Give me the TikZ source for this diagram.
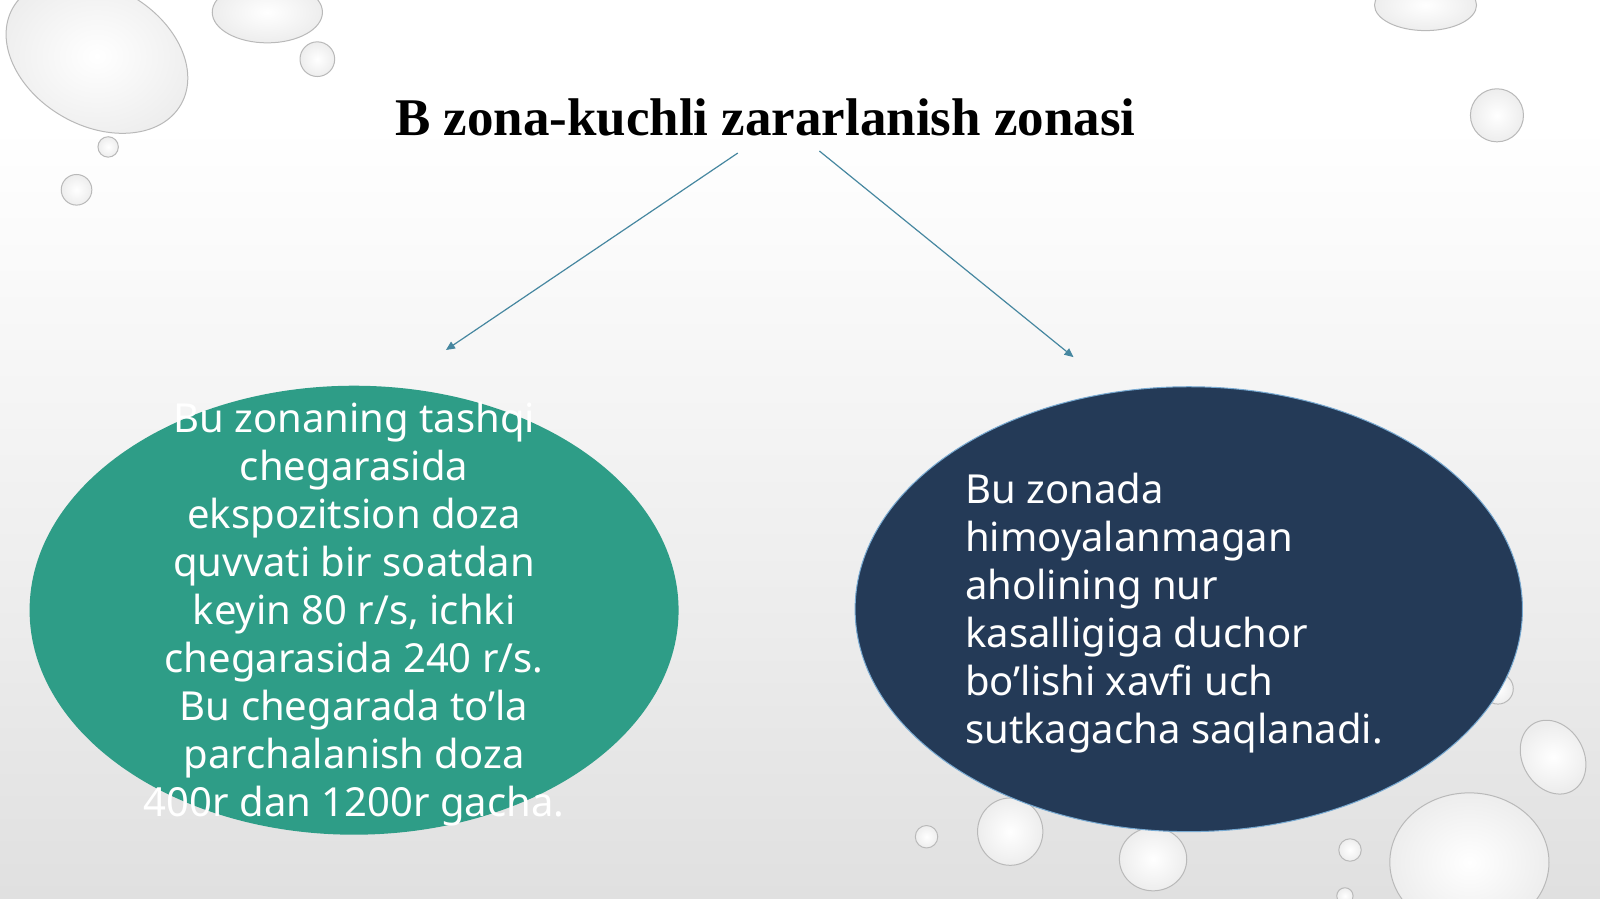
\documentclass[tikz,border=0pt]{standalone}
\usepackage{fontspec}
\setmainfont{Noto Sans}
\newfontfamily\titlefont{Liberation Serif}
\usetikzlibrary{shapes.geometric,arrows.meta}
\definecolor{tealC}{RGB}{46,157,135}
\definecolor{navyC}{RGB}{36,58,87}
\definecolor{arrowC}{RGB}{70,135,160}
\definecolor{rimC}{RGB}{120,170,210}
\pgfdeclareverticalshading{bgshade}{100bp}{color(0bp)=(gray!40); color(40bp)=(gray!15); color(68bp)=(white); color(100bp)=(white)}
\tikzset{
  drop/.style={inner color=white, outer color=gray!14, draw=gray!55, line width=0.5pt},
  zone/.style={ellipse, inner sep=0pt},
  bodytext/.style={text=white, font=\fontsize{20}{24}\selectfont},
  link/.style={draw=arrowC, line width=0.6pt, -{Triangle[length=4.5pt,width=4pt]}}
}
\begin{document}
\begin{tikzpicture}[x=0.5102pt,y=-0.5102pt]
\useasboundingbox (0,0) rectangle (1568,881);
\shade[shading=bgshade] (0,0) rectangle (1568,881);
% droplets
\begin{scope}
\clip (0,0) rectangle (1568,881);
\shadedraw[drop, rotate around={-30:(95,55)}] (95,55) ellipse [x radius=95, y radius=68];
\shadedraw[drop] (262,12) ellipse [x radius=54, y radius=30];
\shadedraw[drop] (311,58) circle [radius=17];
\shadedraw[drop] (106,144) circle [radius=10];
\shadedraw[drop] (75,186) circle [radius=15];
\shadedraw[drop] (1397,5) ellipse [x radius=50, y radius=25];
\shadedraw[drop] (1467,113) circle [radius=26];
\shadedraw[drop] (1468,675) circle [radius=15];
\shadedraw[drop, rotate around={30:(1522,742)}] (1522,742) ellipse [x radius=30, y radius=38];
\shadedraw[drop] (1440,845) ellipse [x radius=78, y radius=68];
\shadedraw[drop] (1323,833) circle [radius=11];
\shadedraw[drop] (990,815) ellipse [x radius=32, y radius=33];
\shadedraw[drop] (908,820) circle [radius=11];
\shadedraw[drop] (1130,842) ellipse [x radius=33, y radius=31];
\shadedraw[drop] (1318,878) circle [radius=8];
\end{scope}
% title
\node[anchor=base, font=\titlefont\bfseries\fontsize{26.5}{30}\selectfont] (title) at (750,133) {B zona-kuchli zararlanish zonasi};
% zones
\node[zone, fill=tealC, minimum width=636*0.5102pt, minimum height=440*0.5102pt] (L) at (347,598) {};
\node[zone, fill=navyC, draw=rimC, line width=0.5pt, minimum width=654*0.5102pt, minimum height=436*0.5102pt] (R) at (1165,597) {};
\node[bodytext, align=center] (Ltext) at (347,602) {Bu zonaning tashqi\\chegarasida\\ekspozitsion doza\\quvvati bir soatdan\\keyin 80 r/s, ichki\\chegarasida 240 r/s.\\Bu chegarada to’la\\parchalanish doza\\400r dan 1200r gacha.};
\node[bodytext, align=left, anchor=west] (Rtext) at (939,601) {Bu zonada\\himoyalanmagan\\aholining nur\\kasalligiga duchor\\bo’lishi xavfi uch\\sutkagacha saqlanadi.};
% connectors
\coordinate (s1) at (723,150);
\coordinate (e1) at (437,343);
\coordinate (s2) at (803,148);
\coordinate (e2) at (1052,350);
\draw[link] (s1) -- (e1);
\draw[link] (s2) -- (e2);
\end{tikzpicture}
\end{document}
